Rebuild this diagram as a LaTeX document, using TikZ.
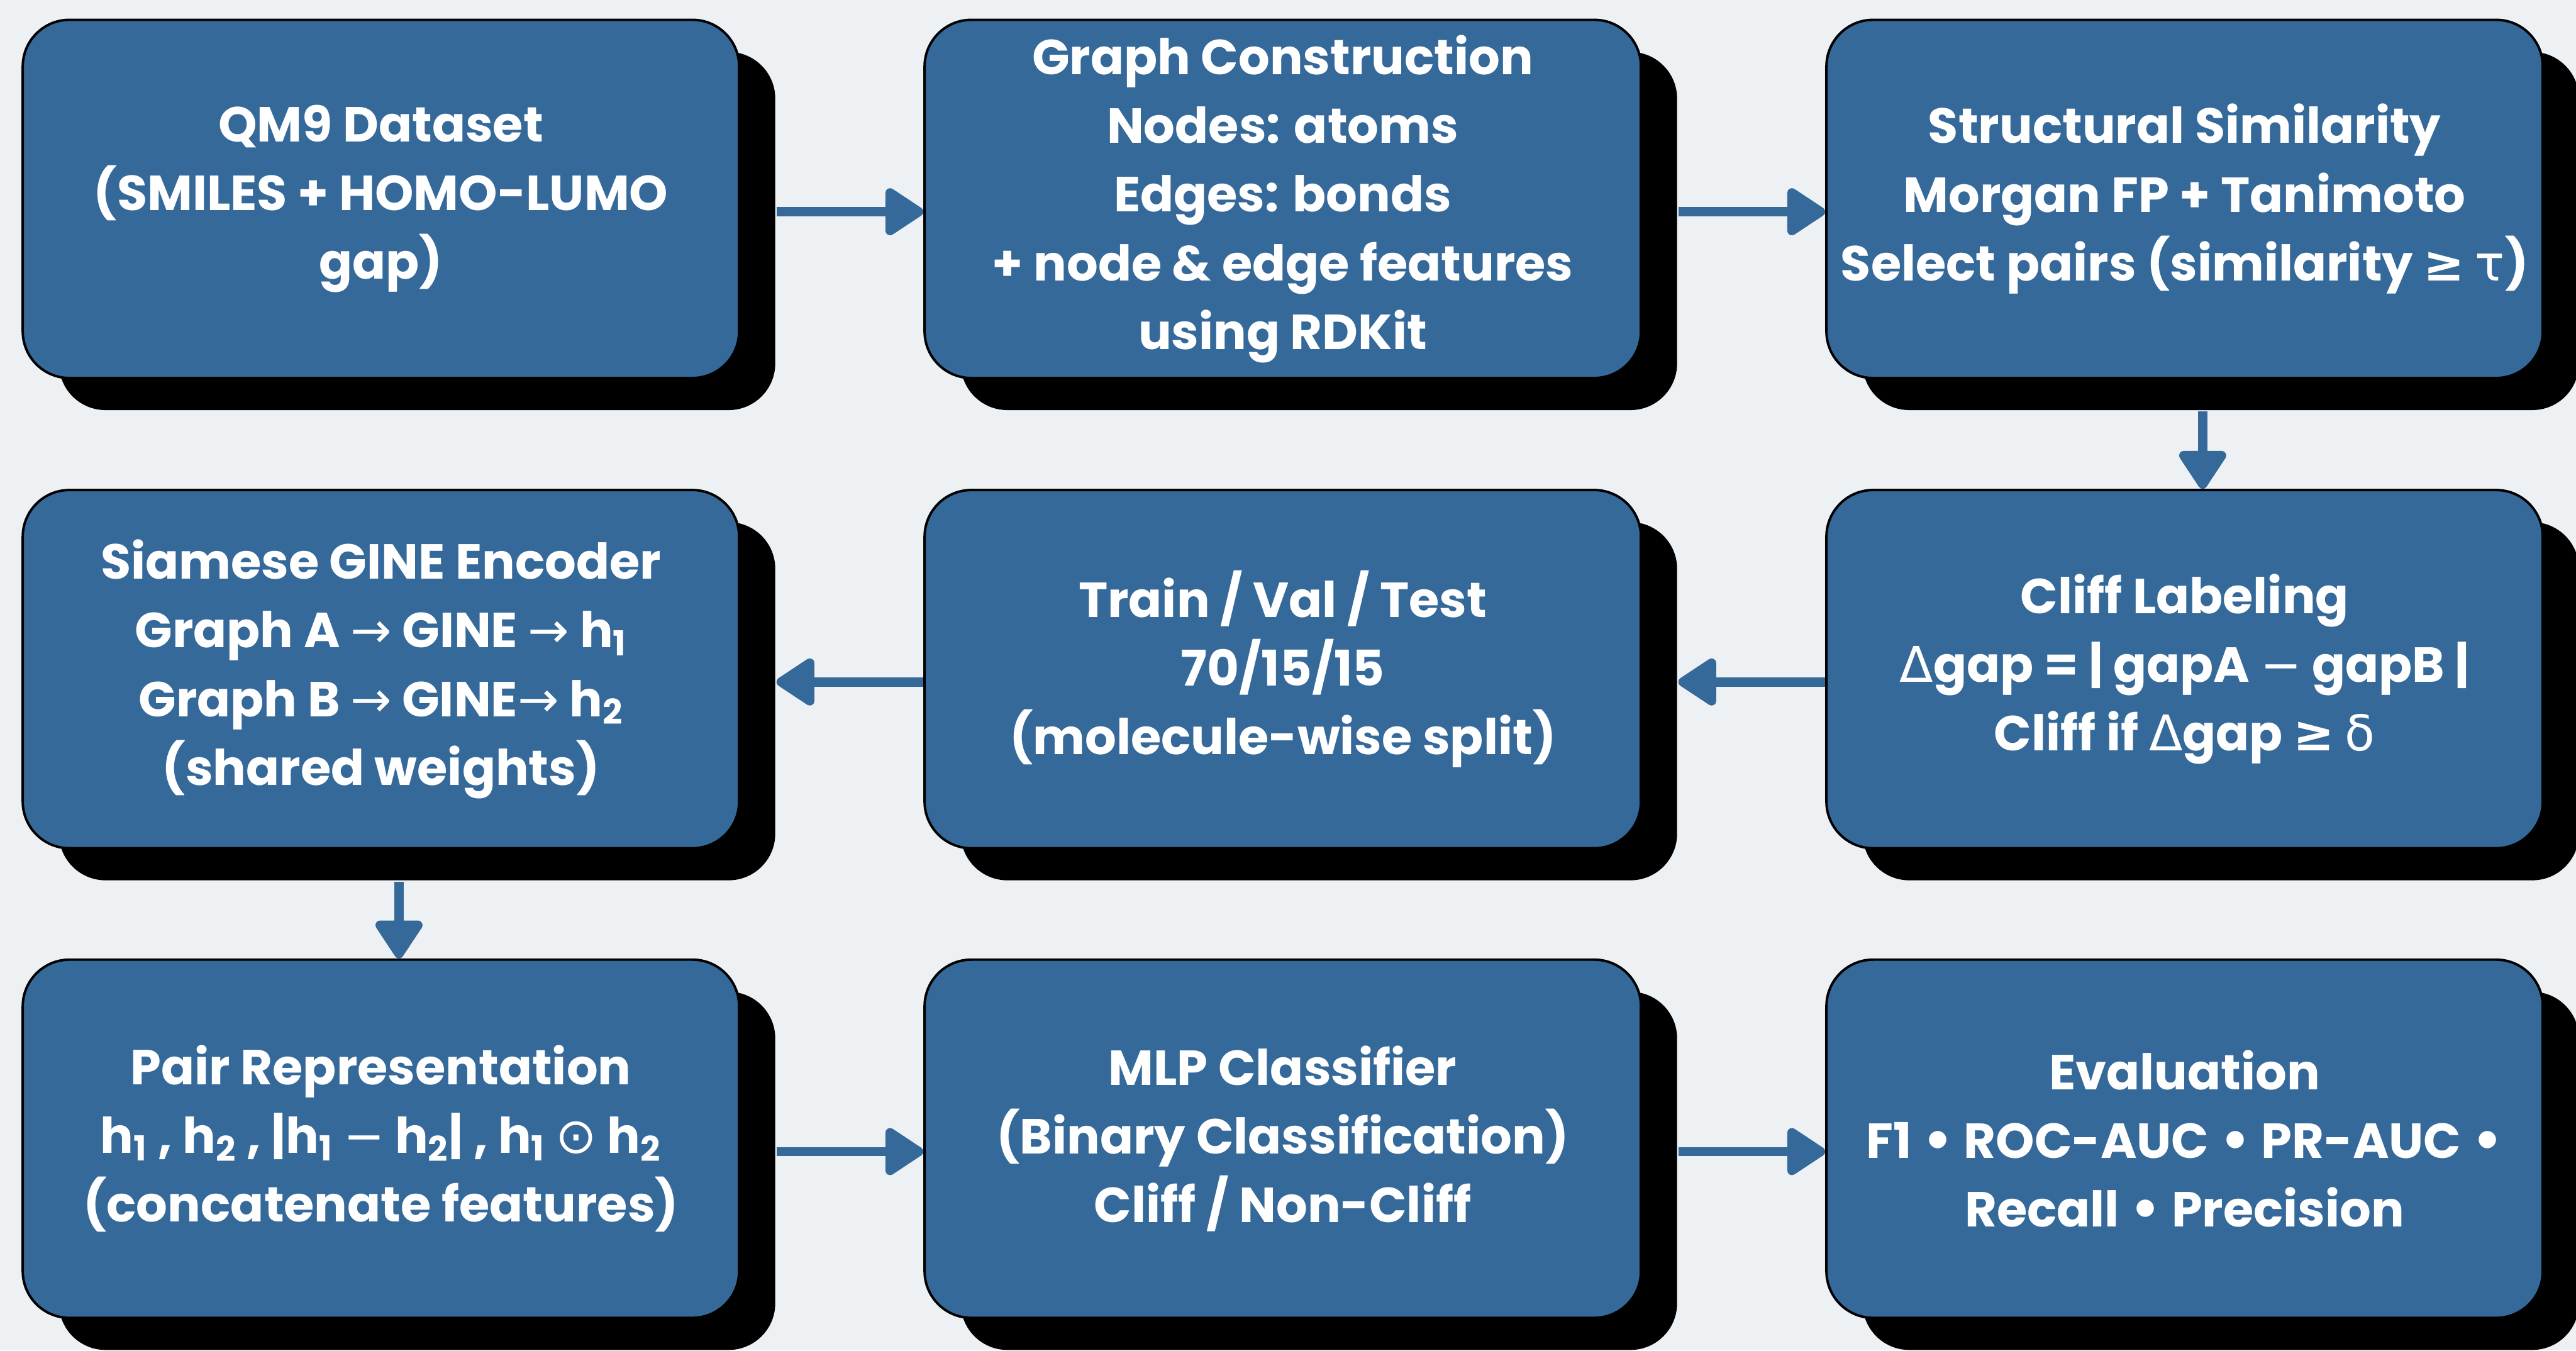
\documentclass[tikz,border=0pt]{standalone}
\usepackage{fontspec}
\setmainfont{Poppins}
\newfontfamily\symfont{DejaVu Sans}
\usetikzlibrary{arrows.meta,shadows}
\definecolor{boxblue}{HTML}{35699A}
\definecolor{pagegray}{HTML}{EEF1F4}
\newcommand{\symb}[1]{{\symfont\mdseries #1}}
\newcommand{\symbb}[1]{{\symfont #1}}

\begin{document}
\begin{tikzpicture}[
  stage/.style={draw=black, line width=1.2pt, fill=boxblue, rounded corners=0.8cm,
    minimum width=12.28cm, minimum height=6.14cm, align=center, text=white,
    font=\fontsize{24}{33.5}\selectfont\bfseries, inner sep=0pt,
    drop shadow={shadow xshift=0.62cm, shadow yshift=-0.55cm, fill=black, opacity=1}},
  flow/.style={draw=boxblue, line width=4.5pt, -{Triangle[length=0.72cm,width=0.9cm,round]}}
]
  \fill[pagegray] (0,0) rectangle (44.16,23.15);
  \useasboundingbox (0,0) rectangle (44.16,23.15);
  % first row
  \node[stage] (qm) at (6.53,19.74) {QM9 Dataset\\(SMILES + HOMO-LUMO\\gap)};
  \node[stage] (graph) at (21.99,19.74) {Graph Construction\\Nodes: atoms\\Edges: bonds\\+ node \& edge features\\using RDKit};
  \node[stage] (simil) at (37.45,19.74) {Structural Similarity\\Morgan FP + Tanimoto\\Select pairs (similarity \symbb{≥} \symb{τ})};
  % second row
  \node[stage] (siam) at (6.53,11.68) {Siamese GINE Encoder\\Graph A \symb{→} GINE \symb{→} h\textsubscript{1}\\Graph B \symb{→} GINE\symb{→} h\textsubscript{2}\\(shared weights)};
  \node[stage] (split) at (21.99,11.68) {Train / Val / Test\\70/15/15\\(molecule-wise split)};
  \node[stage] (cliff) at (37.45,11.68) {Cliff Labeling\\\symb{Δ}gap = | gapA \symb{−} gapB |\\Cliff if \symb{Δ}gap \symbb{≥} \symb{δ}};
  % third row
  \node[stage] (pair) at (6.53,3.63) {Pair Representation\\h\textsubscript{1} , h\textsubscript{2} , |h\textsubscript{1} \symb{−} h\textsubscript{2}| , h\textsubscript{1} \symb{⊙} h\textsubscript{2}\\(concatenate features)};
  \node[stage] (mlp) at (21.99,3.63) {MLP Classifier\\(Binary Classification)\\Cliff / Non-Cliff};
  \node[stage] (eval) at (37.45,3.63) {Evaluation\\F1 \symbb{•} ROC-AUC \symbb{•} PR-AUC \symbb{•}\\Recall \symbb{•} Precision};
  % arrows
  \draw[flow] ([xshift=0.62cm,yshift=-0.22cm]qm.east) -- ([yshift=-0.22cm]graph.west);
  \draw[flow] ([xshift=0.62cm,yshift=-0.22cm]graph.east) -- ([yshift=-0.22cm]simil.west);
  \draw[flow] ([xshift=0.31cm,yshift=-0.55cm]simil.south) -- ([xshift=0.31cm]cliff.north);
  \draw[flow] ([yshift=-0.22cm]cliff.west) -- ([xshift=0.62cm,yshift=-0.22cm]split.east);
  \draw[flow] ([yshift=-0.22cm]split.west) -- ([xshift=0.62cm,yshift=-0.22cm]siam.east);
  \draw[flow] ([xshift=0.31cm,yshift=-0.55cm]siam.south) -- ([xshift=0.31cm]pair.north);
  \draw[flow] ([xshift=0.62cm,yshift=-0.22cm]pair.east) -- ([yshift=-0.22cm]mlp.west);
  \draw[flow] ([xshift=0.62cm,yshift=-0.22cm]mlp.east) -- ([yshift=-0.22cm]eval.west);
\end{tikzpicture}
\end{document}
